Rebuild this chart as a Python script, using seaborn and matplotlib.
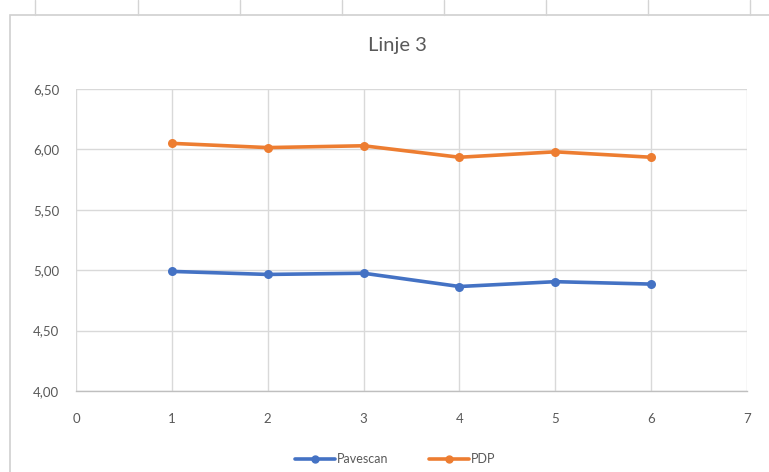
import matplotlib
matplotlib.use("Agg")
import matplotlib.pyplot as plt
from matplotlib.lines import Line2D
from matplotlib.patches import Rectangle
from matplotlib.ticker import FuncFormatter
import pandas as pd
import seaborn as sns

# Measurements per point along line 3
points = [1, 2, 3, 4, 5, 6]
pavescan = [4.99, 4.965, 4.975, 4.865, 4.905, 4.885]
pdp = [6.05, 6.015, 6.03, 5.935, 5.98, 5.935]
series_names = ["Pavescan", "PDP"]
x_ticks = [0, 1, 2, 3, 4, 5, 6, 7]
y_ticks = [4.00, 4.50, 5.00, 5.50, 6.00, 6.50]

blue = "#4472C4"
orange = "#ED7D31"
text_grey = "#595959"
grid_grey = "#D9D9D9"

df = pd.DataFrame({
    "Punkt": points * 2,
    "Verdi": pavescan + pdp,
    "Serie": [series_names[0]] * len(points) + [series_names[1]] * len(points),
})

sns.set_theme(style="white")
plt.rcParams["font.family"] = ["Lato", "DejaVu Sans"]

fig = plt.figure(figsize=(7.69, 4.72), dpi=100)
fig.patch.set_facecolor("white")

# Spreadsheet cell lines above the chart object
for xp in [35, 138, 240, 342, 444, 546, 648, 750]:
    fig.add_artist(Line2D([xp / 769, xp / 769], [1 - 15 / 472, 1.0],
                          color="#D4D4D4", lw=1.0, transform=fig.transFigure))
# Chart object frame
fig.add_artist(Rectangle((10 / 769, -0.05), 1.2, 1 - 15 / 472 + 0.05,
                         transform=fig.transFigure, fill=False,
                         edgecolor="#D0D0D0", lw=1.2))

ax = fig.add_axes([76 / 769, 1 - 391 / 472, (747 - 76) / 769, (391 - 89) / 472])

sns.lineplot(data=df, x="Punkt", y="Verdi", hue="Serie",
             palette={series_names[0]: blue, series_names[1]: orange},
             marker="o", markersize=6.5, markeredgewidth=0, linewidth=2.6,
             ax=ax, legend=False)

ax.set_xlim(0, 7)
ax.set_ylim(4.0, 6.5)
ax.set_xticks(x_ticks)
ax.set_yticks(y_ticks)
ax.yaxis.set_major_formatter(FuncFormatter(lambda v, _: f"{v:.2f}".replace(".", ",")))
ax.grid(True, color=grid_grey, lw=1.0)
ax.set_axisbelow(True)
for side in ["top", "right", "left"]:
    ax.spines[side].set_visible(False)
ax.spines["bottom"].set_color("#BFBFBF")
ax.spines["bottom"].set_linewidth(1.0)
ax.tick_params(axis="both", length=0, labelsize=9.5, labelcolor=text_grey)
ax.tick_params(axis="x", pad=16)
ax.tick_params(axis="y", pad=12)
ax.set_xlabel("")
ax.set_ylabel("")

fig.text(397 / 769, 1 - 46 / 472, "Linje 3", ha="center", va="center",
         fontsize=14.5, color=text_grey)

handles = [
    Line2D([0], [0], color=blue, lw=2.6, marker="o", markersize=5),
    Line2D([0], [0], color=orange, lw=2.6, marker="o", markersize=5),
]
fig.legend(handles, series_names, loc="center", bbox_to_anchor=(395 / 769, 1 - 459 / 472),
           ncol=2, frameon=False, fontsize=9, labelcolor=text_grey,
           handlelength=3.2, handletextpad=0.2, columnspacing=3.2)

fig.savefig("out.png", dpi=100)
